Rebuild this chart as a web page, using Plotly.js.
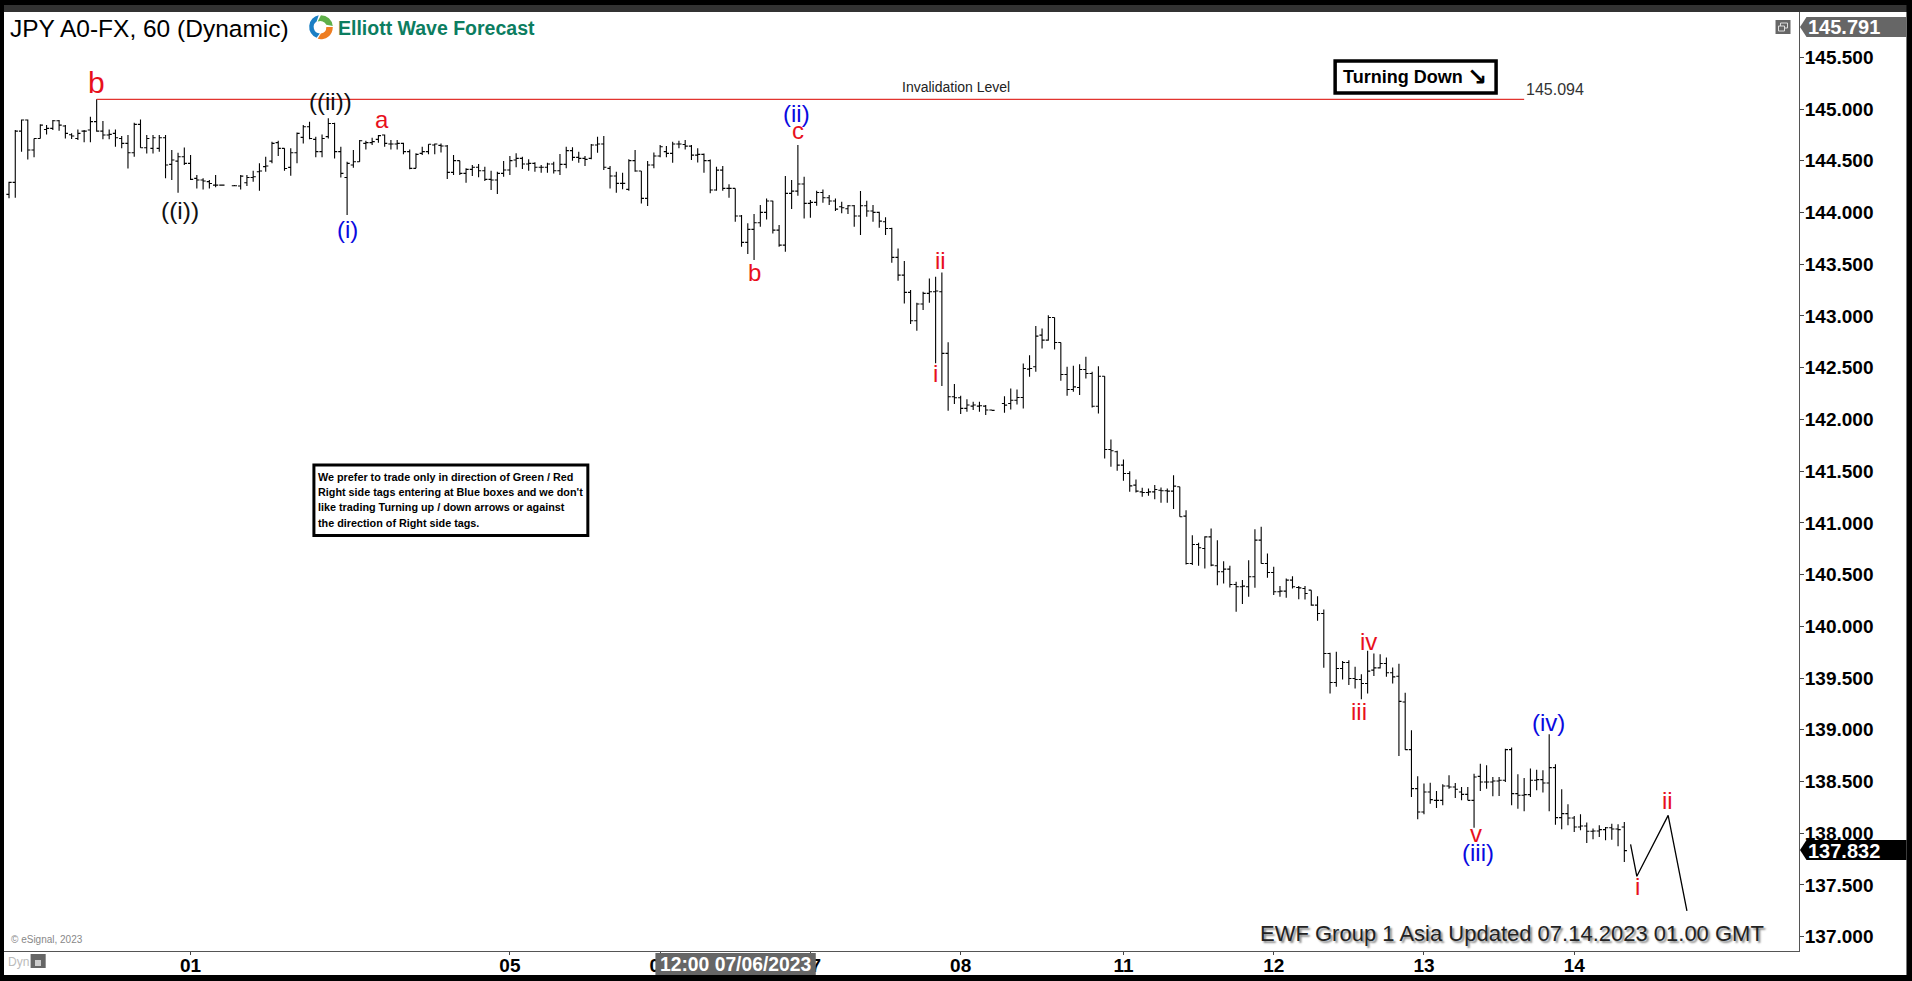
<!DOCTYPE html>
<html>
<head>
<meta charset="utf-8">
<title>JPY A0-FX, 60 (Dynamic)</title>
<script src="https://cdn.plot.ly/plotly-3.0.1.min.js"></script>
<style>html,body{margin:0;padding:0;background:#000;overflow:hidden}#chart{width:1912px;height:981px}</style>
</head>
<body>
<div id="chart"></div>
<script>
const opens = [
144.175,144.291,144.787,144.894,144.604,144.716,144.803,144.813,144.887,144.836,
144.752,144.716,144.787,144.797,144.878,144.787,144.749,144.765,144.716,144.668,
144.578,144.852,144.626,144.620,144.620,144.723,144.465,144.497,144.539,144.475,
144.330,144.314,144.298,144.265,144.265,null,144.259,144.256,144.288,144.339,
144.394,144.443,144.497,144.675,144.620,144.436,144.578,144.726,144.829,144.707,
144.588,144.733,144.861,144.588,144.339,144.459,144.491,144.668,144.675,144.707,
144.749,144.662,144.662,144.668,144.588,144.427,144.572,144.588,144.652,144.649,
144.643,144.388,144.501,144.378,144.417,144.437,144.404,144.320,144.314,144.378,
144.411,144.507,144.523,144.469,144.475,144.437,144.437,144.469,144.404,144.465,
144.598,144.533,144.523,144.523,144.652,144.662,144.427,144.353,144.282,144.224,
144.501,144.401,144.137,144.459,144.546,144.588,144.572,144.662,144.658,144.642,
144.555,144.562,144.501,144.217,144.410,144.233,144.233,143.966,143.711,143.837,
143.901,144.001,144.111,143.830,143.685,144.185,144.207,144.275,144.088,144.098,
144.194,144.143,144.111,144.056,144.037,144.066,143.966,144.066,144.014,144.001,
143.911,143.846,143.566,143.395,143.228,142.954,143.115,143.218,143.234,143.234,
142.638,142.219,142.210,142.107,142.129,142.129,142.129,142.091,null,142.154,
142.154,142.186,142.212,142.486,142.509,142.815,142.766,142.985,142.744,142.434,
142.289,142.309,142.483,142.444,142.128,142.418,141.710,141.687,141.558,141.478,
141.365,141.300,141.294,141.300,141.316,141.310,141.307,141.349,141.065,140.608,
140.791,140.753,140.865,140.585,140.527,140.553,140.405,140.382,140.382,140.479,
140.833,140.608,140.521,140.334,140.340,140.447,140.376,140.366,140.350,140.205,
140.124,139.738,139.457,139.593,139.651,139.496,139.486,139.448,139.577,139.599,
139.641,139.551,139.517,139.269,138.808,138.431,138.206,138.399,138.318,138.318,
138.457,138.447,138.399,138.376,138.318,138.550,138.496,138.496,138.505,138.512,
138.808,138.383,138.367,138.373,138.512,138.518,138.486,138.634,138.151,138.190,
138.148,138.061,138.070,138.019,138.022,138.035,138.054,138.041,138.061];
const highs = [
144.298,144.797,144.900,144.900,144.716,144.852,144.845,144.894,144.894,144.845,
144.765,144.803,144.797,144.926,145.094,144.884,144.803,144.803,144.739,144.749,
144.868,144.900,144.749,144.749,144.749,144.749,144.604,144.578,144.629,144.555,
144.362,144.330,144.314,144.362,144.269,null,144.265,144.362,144.362,144.404,
144.475,144.539,144.684,144.694,144.620,144.620,144.774,144.845,144.878,144.733,
144.755,144.910,144.868,144.636,144.491,144.604,144.701,144.694,144.723,144.749,
144.755,144.701,144.701,144.675,144.610,144.572,144.636,144.659,144.668,144.668,
144.652,144.556,144.501,144.427,144.459,144.469,144.443,144.404,144.395,144.498,
144.546,144.572,144.540,144.514,144.485,144.459,144.482,144.491,144.565,144.636,
144.630,144.588,144.546,144.662,144.733,144.739,144.449,144.395,144.385,144.514,
144.604,144.401,144.498,144.581,144.652,144.643,144.685,144.694,144.700,144.652,
144.620,144.571,144.513,144.443,144.449,144.272,144.233,143.975,143.895,143.985,
144.072,144.136,144.114,143.879,144.352,144.314,144.652,144.346,144.120,144.211,
144.223,144.169,144.136,144.104,144.072,144.072,144.207,144.114,144.072,144.008,
143.953,143.853,143.653,143.531,143.250,143.128,143.234,143.363,143.379,143.421,
142.745,142.342,142.229,142.194,142.171,142.171,142.139,142.094,null,142.225,
142.299,142.289,142.541,142.621,142.902,142.879,143.008,142.985,142.744,142.509,
142.518,142.534,142.605,142.460,142.515,142.418,141.806,141.697,141.613,141.500,
141.420,141.339,141.333,141.365,141.342,141.333,141.461,141.349,141.123,140.881,
140.807,140.872,140.946,140.833,140.630,140.585,140.430,140.447,140.640,140.939,
140.962,140.704,140.575,140.389,140.463,140.485,140.389,140.389,140.350,140.292,
140.163,139.744,139.754,139.664,139.673,139.609,139.538,139.763,139.738,139.731,
139.699,139.602,139.639,139.359,138.995,138.550,138.480,138.489,138.409,138.473,
138.560,138.486,138.447,138.447,138.576,138.673,138.657,138.544,138.544,138.818,
138.828,138.570,138.534,138.625,138.615,138.608,138.956,138.666,138.425,138.280,
138.167,138.183,138.103,138.045,138.077,138.061,138.093,138.086,138.109];
const lows = [
144.137,144.143,144.588,144.513,144.533,144.716,144.755,144.797,144.791,144.716,
144.710,144.700,144.678,144.678,144.781,144.707,144.707,144.636,144.620,144.426,
144.539,144.626,144.571,144.571,144.588,144.330,144.314,144.191,144.459,144.314,
144.233,144.223,144.233,144.243,144.262,null,144.256,144.223,144.256,144.298,
144.211,144.394,144.475,144.546,144.404,144.356,144.475,144.668,144.707,144.533,
144.533,144.716,144.523,144.339,143.975,144.433,144.491,144.610,144.652,144.675,
144.636,144.610,144.610,144.562,144.417,144.427,144.556,144.562,144.562,144.581,
144.324,144.362,144.362,144.288,144.353,144.340,144.304,144.217,144.179,144.346,
144.362,144.437,144.420,144.404,144.395,144.385,144.385,144.378,144.362,144.427,
144.501,144.482,144.449,144.514,144.578,144.411,144.233,144.192,144.224,144.211,
144.395,144.088,144.063,144.427,144.533,144.533,144.482,144.620,144.610,144.507,
144.484,144.385,144.185,144.211,144.211,144.143,143.911,143.669,143.598,143.540,
143.863,143.933,143.798,143.669,143.621,144.033,144.162,143.943,143.950,144.066,
144.095,144.072,144.014,143.992,143.985,143.863,143.782,143.959,143.911,143.853,
143.782,143.515,143.341,143.121,142.922,142.857,143.057,143.128,142.542,142.322,
142.084,142.149,142.052,142.074,142.091,142.074,142.042,142.084,null,142.064,
142.096,142.145,142.106,142.412,142.460,142.686,142.760,142.676,142.373,142.228,
142.267,142.235,142.396,142.116,142.058,141.623,141.542,141.503,141.407,141.300,
141.294,141.252,141.262,141.229,141.194,141.194,141.133,141.059,140.598,140.592,
140.585,140.559,140.582,140.398,140.414,140.376,140.141,140.215,140.285,140.372,
140.608,140.469,140.302,140.285,140.276,140.366,140.263,140.260,140.198,140.053,
139.599,139.351,139.415,139.486,139.432,139.399,139.296,139.351,139.519,139.593,
139.512,139.448,138.747,138.808,138.351,138.135,138.183,138.286,138.244,138.270,
138.431,138.341,138.318,138.318,138.054,138.409,138.431,138.357,138.360,138.496,
138.270,138.238,138.212,138.351,138.415,138.393,138.212,138.083,138.038,138.077,
138.012,138.029,137.906,137.941,137.964,137.932,137.938,137.874,137.722];
const closes = [
144.291,144.787,144.894,144.604,144.716,144.845,144.813,144.887,144.845,144.765,
144.739,144.765,144.787,144.878,144.787,144.749,144.755,144.723,144.668,144.578,
144.852,144.626,144.716,144.723,144.723,144.459,144.507,144.539,144.475,144.320,
144.314,144.304,144.281,144.265,144.265,null,144.259,144.352,144.339,144.346,
144.401,144.449,144.668,144.620,144.426,144.578,144.765,144.829,144.716,144.588,
144.716,144.861,144.588,144.378,144.475,144.491,144.694,144.675,144.685,144.743,
144.668,144.662,144.668,144.588,144.427,144.562,144.588,144.659,144.662,144.643,
144.388,144.501,144.378,144.417,144.437,144.404,144.320,144.314,144.378,144.411,
144.501,144.523,144.469,144.475,144.437,144.437,144.469,144.404,144.465,144.598,
144.533,144.523,144.514,144.652,144.662,144.437,144.353,144.282,144.282,144.501,
144.401,144.137,144.459,144.546,144.636,144.572,144.662,144.662,144.642,144.555,
144.562,144.501,144.217,144.410,144.233,144.233,143.966,143.711,143.837,143.901,
144.001,144.111,143.830,143.685,144.185,144.207,144.275,144.088,144.098,144.194,
144.143,144.111,144.033,144.046,144.066,143.966,144.066,144.014,144.001,143.917,
143.846,143.566,143.395,143.228,142.954,143.115,143.218,143.234,143.241,142.638,
142.219,142.210,142.107,142.139,142.139,142.132,142.091,142.087,null,142.138,
142.186,142.212,142.492,142.492,142.805,142.766,142.985,142.744,142.434,142.289,
142.315,142.483,142.444,142.128,142.418,141.710,141.697,141.558,141.478,141.358,
141.307,141.294,141.300,141.323,141.310,141.307,141.355,141.059,140.608,140.791,
140.759,140.865,140.592,140.527,140.553,140.405,140.382,140.389,140.479,140.833,
140.608,140.521,140.334,140.340,140.447,140.382,140.372,140.318,140.205,140.124,
139.738,139.457,139.593,139.651,139.496,139.486,139.448,139.567,139.599,139.641,
139.551,139.512,139.275,138.808,138.431,138.206,138.399,138.325,138.318,138.457,
138.447,138.425,138.376,138.318,138.544,138.496,138.496,138.505,138.512,138.808,
138.383,138.367,138.373,138.512,138.518,138.486,138.634,138.151,138.190,138.148,
138.061,138.070,138.019,138.022,138.035,138.054,138.041,138.035,137.832];

const dayTickBars = [29,80,104,128,152,178,202,226,250];
const dayTickLabels = ['01','05','06','07','08','11','12','13','14'];
const priceTicks = [137,137.5,138,138.5,139,139.5,140,140.5,141,141.5,142,142.5,143,143.5,144,144.5,145,145.5];

const invalidationLevel = 145.094;
const invalidationBars = [14,242];
const forecastBars = [259,260,265,268];
const forecastPrices = [137.893,137.584,138.173,137.249];

const waveText   = ['b','((ii))','a','((i))','(i)','(ii)','c','b','ii','i','iv','iii','v','(iii)','(iv)','i','ii'];
const waveBars   = [14,51.3,59.6,27.3,54.1,125.8,126,119.1,148.7,148,217.2,215.6,234.3,234.6,245.9,260.1,264.9];
const wavePrices = [145.242,145.058,144.884,144.004,143.820,144.942,144.778,143.404,143.520,142.428,139.836,139.159,137.980,137.796,139.053,137.467,138.299];
const waveColors = ['#e8101c','#111','#e8101c','#111','#0a0ae0','#0a0ae0','#e8101c','#e8101c','#e8101c','#e8101c','#e8101c','#e8101c','#e8101c','#0a0ae0','#0a0ae0','#e8101c','#e8101c'];
const waveSizes  = [30,24,24,24.5,24,24,24,24,24,24,24,24,24,24,24,24,24];

const topPrice = 145.791;
const lastPrice = 137.832;
const noteLines = ["We prefer to trade only in direction of Green / Red","Right side tags entering at Blue boxes and we don't","like trading Turning up / down arrows or against","the direction of Right side tags."];

const FONT = '"Liberation Sans", Arial, sans-serif';
const L = 4, R = 1799.5, T = 12, B = 951;
const X = p => (p - L) / (R - L);
const Y = p => (B - p) / (B - T);
const barIndex = opens.map((_, i) => i);

const traces = [
  {type:'ohlc', x:barIndex, open:opens, high:highs, low:lows, close:closes, tickwidth:0.42,
   increasing:{line:{color:'#000',width:1.1}}, decreasing:{line:{color:'#000',width:1.1}}, hoverinfo:'skip', showlegend:false},
  {type:'scatter', mode:'lines', x:invalidationBars, y:[invalidationLevel,invalidationLevel], line:{color:'#e2342f',width:1.2}, hoverinfo:'skip', showlegend:false},
  {type:'scatter', mode:'lines', x:forecastBars, y:forecastPrices, line:{color:'#000',width:1.3}, hoverinfo:'skip', showlegend:false}
];

function rect(x0,y0,x1,y1,fill,line,lw,layer){
  return {type:'rect',xref:'paper',yref:'paper',x0:X(x0),x1:X(x1),y0:Y(y0),y1:Y(y1),fillcolor:fill,
    line:{color:line||fill,width:lw===undefined?0:lw},layer:layer||'above'};
}
function tag(y0,y1,fill){
  const ym=(y0+y1)/2;
  return {type:'path',xref:'paper',yref:'paper',layer:'above',fillcolor:fill,line:{width:0},
    path:`M ${X(1800.5)} ${Y(ym)} L ${X(1807)} ${Y(y0)} L ${X(1907)} ${Y(y0)} L ${X(1907)} ${Y(y1)} L ${X(1807)} ${Y(y1)} Z`};
}
const shapes = [
  rect(4,12,1907,975,'#fff',null,0,'below'),
  rect(4,5,1907,12,'#333',null,0,'below'),
  tag(17,37,'#666'),
  tag(840,860,'#000'),
  rect(1776,20,1791,34,'#666'),
  rect(1781,23,1788,28,'rgba(0,0,0,0)','#ddd',1),
  rect(1779,26,1785,31,'#666','#ddd',1),
  rect(1335.5,61,1496.5,93,'#fff','#000',3.5),
  rect(314,465,588,535.5,'#fff','#000',3),
  rect(655.6,953,816,975,'#666'),
  rect(30.6,954,45.7,968,'#666'),
  rect(35,960,41,966,'#ccc')
];

function txt(text,px,py,size,color,opts){
  return Object.assign({xref:'paper',yref:'paper',x:X(px),y:Y(py),text,showarrow:false,xanchor:'left',yanchor:'middle',
    font:{family:FONT,size,color}},opts||{});
}
const annotations = waveText.map((t,i)=>({xref:'x',yref:'y',x:waveBars[i],y:wavePrices[i],text:t,showarrow:false,yshift:1.5,
  xanchor:'center',yanchor:'middle',font:{family:FONT,size:waveSizes[i],color:waveColors[i]}}));
const noteRows = [477,492,507,522.5];
noteLines.forEach((line,i)=>annotations.push(txt(line,316,noteRows[i],10.8,'#000',{font:{family:FONT,size:10.8,color:'#000',weight:700}})));
annotations.push(
  txt('JPY A0-FX, 60 (Dynamic)',8,29,24.5,'#000'),
  txt('Elliott Wave Forecast',336,28,19.5,'#0c7d60',{font:{family:FONT,size:19.5,color:'#0c7d60',weight:700}}),
  txt('Invalidation Level',900,87,14,'#222'),
  txt('145.094',1524.5,90,16,'#333'),
  txt('Turning Down',1341,77,18,'#000',{font:{family:FONT,size:18,color:'#000',weight:700}}),
  txt('\u2198',1477,77,24,'#000',{xanchor:'center',font:{family:'"DejaVu Sans"',size:24,color:'#000',weight:700}}),
  txt('\u00a9 eSignal, 2023',9,939,10,'#888'),
  txt('Dyn',6.5,961.5,12,'#bbb'),
  txt('EWF Group 1 Asia Updated 07.14.2023 01.00 GMT',1766,933,22,'#222',{xanchor:'right',font:{family:FONT,size:22,color:'#222',shadow:'2px 2px 2px #888'}}),
  txt('12:00 07/06/2023',735.8,964,19.3,'#fff',{xanchor:'center',font:{family:FONT,size:19.3,color:'#fff',weight:700}}),
  {xref:'paper',yref:'y',x:X(1845),y:topPrice,text:topPrice.toFixed(3),showarrow:false,xanchor:'center',yanchor:'middle',font:{family:FONT,size:20,color:'#fff',weight:700}},
  {xref:'paper',yref:'y',x:X(1845),y:lastPrice,text:lastPrice.toFixed(3),showarrow:false,xanchor:'center',yanchor:'middle',font:{family:FONT,size:20,color:'#fff',weight:700}}
);

const logoSvg = `<svg xmlns="http://www.w3.org/2000/svg" viewBox="0 0 26 26">
<path d="M13 2 A11 11 0 0 1 24 12 L18 11 A6 6 0 0 0 10 8 Z" fill="#5fb04a"/>
<path d="M24 13 A11 11 0 0 1 10 24 L13 19 A6 6 0 0 0 18 13 Z" fill="#ee7d22"/>
<path d="M9 23 A11 11 0 0 1 11 2 L9 8 A6 6 0 0 0 12 19 Z" fill="#1b7fc4"/></svg>`;

const layout = {
  width:1912, height:981, autosize:false,
  margin:{l:L,r:1912-R,t:T,b:981-B,pad:0},
  paper_bgcolor:'#000', plot_bgcolor:'#fff', showlegend:false, hovermode:false,
  xaxis:{type:'linear',range:[-0.8,285.9],rangeslider:{visible:false},tickmode:'array',tickvals:dayTickBars,ticktext:dayTickLabels,
    ticks:'outside',ticklen:3,tickcolor:'#444',ticklabelstandoff:-6,tickfont:{family:FONT,size:19,color:'#000',weight:700},
    showgrid:false,zeroline:false,showline:true,linecolor:'#555',linewidth:1,fixedrange:true},
  yaxis:{type:'linear',side:'right',range:[136.862,145.938],tickmode:'array',tickvals:priceTicks,
    ticktext:priceTicks.map(v=>v.toFixed(3)),ticks:'outside',ticklen:4,tickcolor:'#444',ticklabelstandoff:-3,
    tickfont:{family:FONT,size:19,color:'#000',weight:700},showgrid:false,zeroline:false,showline:true,linecolor:'#555',linewidth:1,fixedrange:true},
  shapes, annotations,
  images:[{source:'data:image/svg+xml;charset=utf-8,'+encodeURIComponent(logoSvg),xref:'paper',yref:'paper',x:X(307),y:Y(13),sizex:28/(R-L),sizey:28/(B-T),xanchor:'left',yanchor:'top',layer:'above'}]
};
Plotly.newPlot('chart',traces,layout,{displayModeBar:false,staticPlot:true});
</script>
</body>
</html>
